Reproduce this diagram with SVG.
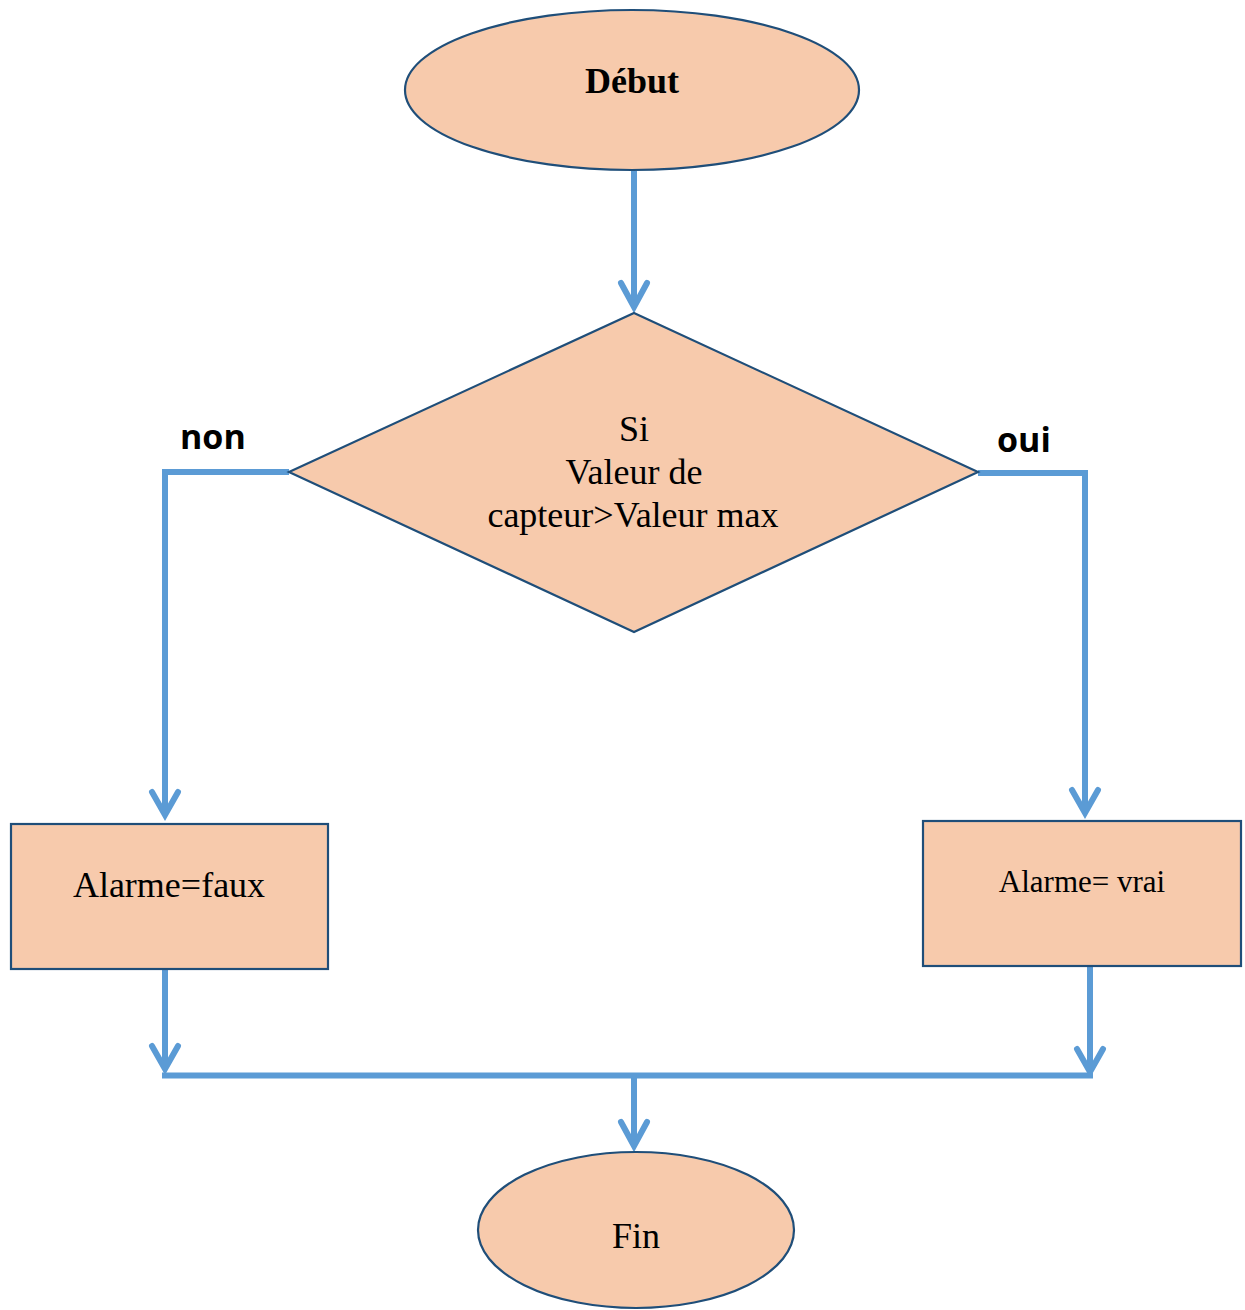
<svg xmlns="http://www.w3.org/2000/svg" width="1245" height="1310" viewBox="0 0 1245 1310">
  <style>
    .shape { fill: #F7CAAC; stroke: #1F4E79; stroke-width: 2.2; }
    .serif { font-family: "Liberation Serif", "Times New Roman", serif; fill: #000; text-anchor: middle; }
    .lbl { font-family: "Open Sans", "Noto Sans", sans-serif; font-weight: bold; font-size: 34px; fill: #000; }
    .wire { fill: none; stroke: #5B9BD5; stroke-width: 6; stroke-linejoin: miter; }
    .head { fill: none; stroke: #5B9BD5; stroke-width: 6; stroke-linecap: round; stroke-linejoin: miter; }
  </style>
  <rect width="1245" height="1310" fill="#fff"/>

  <g id="connectors">
    <!-- start to decision -->
    <path class="wire" d="M634 171 V306"/>
    <path class="head" d="M621 283 L634 307 L647 283"/>
    <!-- decision: no branch -->
    <path class="wire" d="M289 472 H165 V815"/>
    <path class="head" d="M152 792 L165 815 L178 792"/>
    <!-- decision: yes branch -->
    <path class="wire" d="M978 473 H1085 V812"/>
    <path class="head" d="M1072 790 L1085 813 L1098 790"/>
    <!-- boxes to merge line -->
    <path class="wire" d="M165 969 V1068"/>
    <path class="head" d="M152 1046 L165 1069 L178 1046"/>
    <path class="wire" d="M1090 966 V1071"/>
    <path class="head" d="M1077 1049 L1090 1072 L1103 1049"/>
    <path class="wire" d="M162 1075.5 H1093" stroke-width="5"/>
    <!-- merge to end -->
    <path class="wire" d="M634 1078 V1144"/>
    <path class="head" d="M621 1122 L634 1146 L647 1122"/>
  </g>

  <g id="start">
    <ellipse class="shape" cx="632" cy="90" rx="227" ry="80"/>
    <text class="serif" x="632" y="93" font-size="36" font-weight="bold">Début</text>
  </g>

  <g id="decision">
    <polygon class="shape" points="634,313 978,472 634,632 289,472"/>
    <text class="serif" x="634" y="441" font-size="36">Si</text>
    <text class="serif" x="634" y="484" font-size="36">Valeur de</text>
    <text class="serif" x="633" y="527" font-size="36">capteur&gt;Valeur max</text>
  </g>

  <g id="label-non">
    <text class="lbl" x="180" y="449">non</text>
  </g>
  <g id="label-oui">
    <text class="lbl" x="997" y="452">oui</text>
  </g>

  <g id="alarm-false">
    <rect class="shape" x="11" y="824" width="317" height="145"/>
    <text class="serif" x="169" y="897" font-size="36">Alarme=faux</text>
  </g>

  <g id="alarm-true">
    <rect class="shape" x="923" y="821" width="318" height="145"/>
    <text class="serif" x="1082" y="892" font-size="31">Alarme= vrai</text>
  </g>

  <g id="end">
    <ellipse class="shape" cx="636" cy="1230" rx="158" ry="78"/>
    <text class="serif" x="636" y="1248" font-size="36">Fin</text>
  </g>
</svg>
